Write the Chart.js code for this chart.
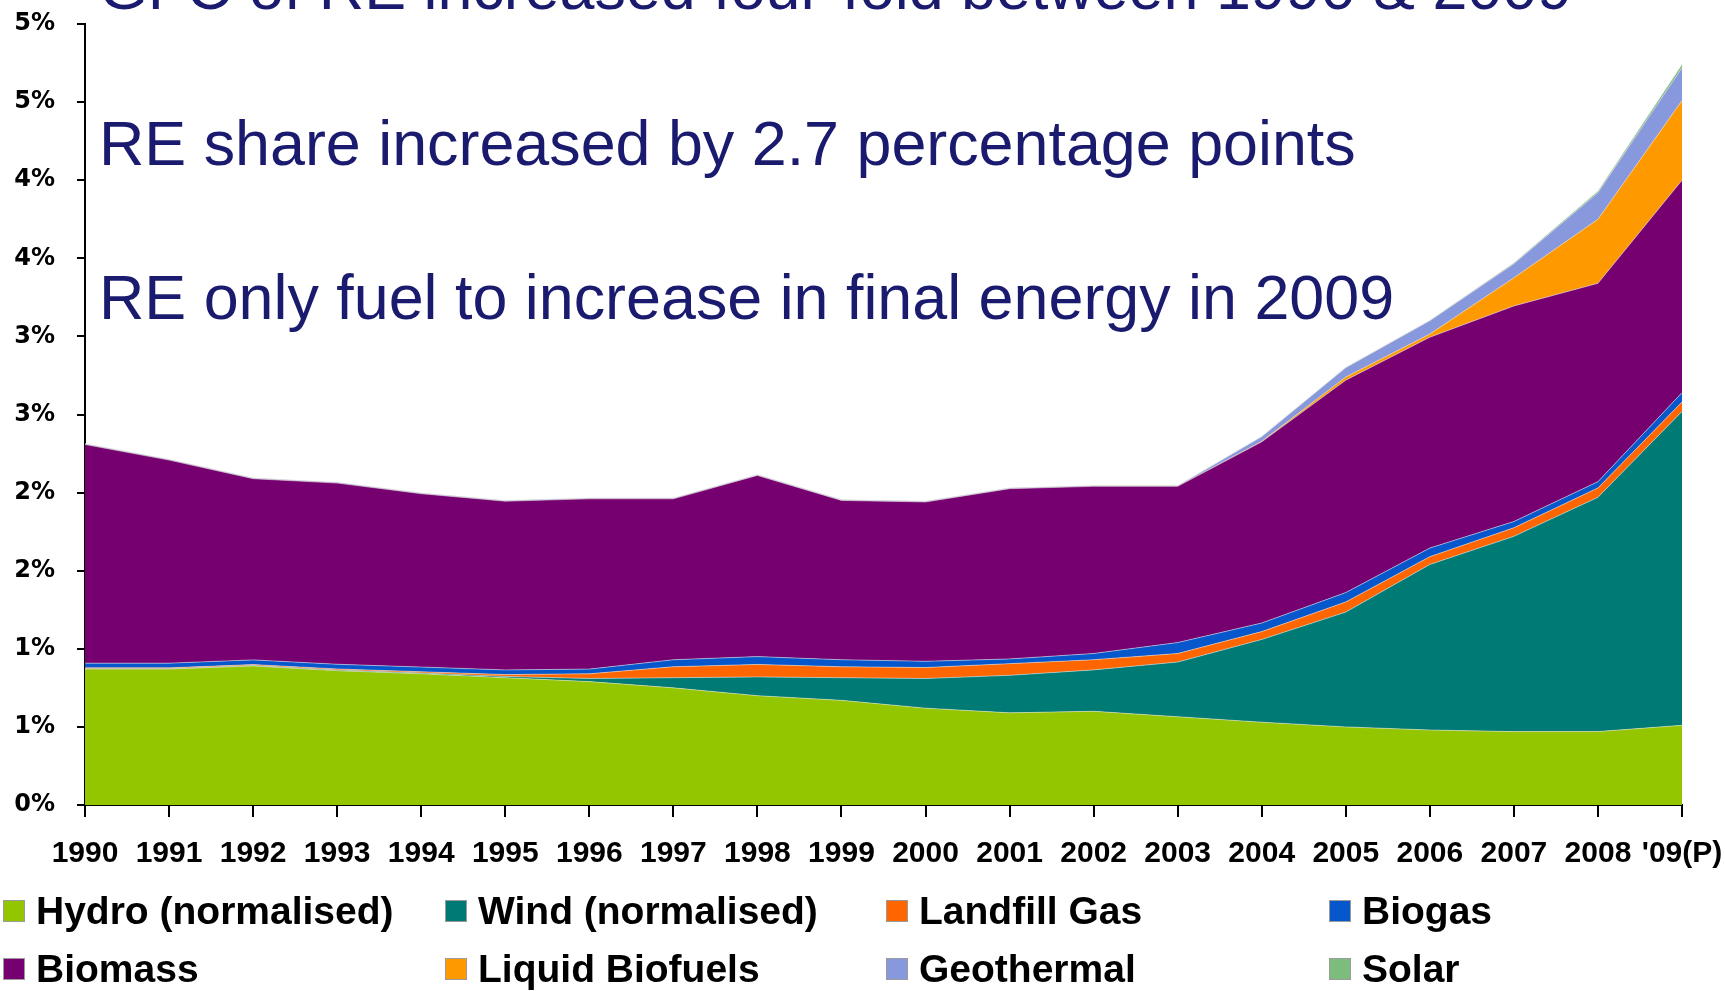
<!DOCTYPE html>
<html>
<head>
<meta charset="utf-8">
<script src="https://cdn.jsdelivr.net/npm/chart.js@4.4.1/dist/chart.umd.min.js"></script>
<style>
  html, body { margin: 0; padding: 0; background: #fff; overflow: hidden; }
  #wrap { position: relative; width: 1725px; height: 991px; }
  #chart { position: absolute; left: 0; top: 0; }
  .note {
    position: absolute; left: 99px; margin: 0;
    font: 62.8px 'Liberation Sans', Arial, sans-serif;
    line-height: 1; color: #1a1a6e; white-space: nowrap;
  }
  .item {
    position: absolute; height: 46px; display: flex; align-items: center;
    font: bold 39px 'Liberation Sans', Arial, sans-serif; line-height: 46px;
    color: #000; white-space: nowrap;
  }
  .sw { width: 20px; height: 20px; border: 1px solid #9a9a9a; margin-right: 11px; flex: none; }
</style>
</head>
<body>
<div id="wrap">
  <canvas id="chart" width="1725" height="991"></canvas>
  <p class="note" style="top:-44px">GFC of RE increased four-fold between 1990 &amp; 2009</p>
  <p class="note" style="top:112px">RE share increased by 2.7 percentage points</p>
  <p class="note" style="top:266px">RE only fuel to increase in final energy in 2009</p>
  <div id="legend"></div>
</div>
<script>
'use strict';

// share of final energy consumption, %
const years = ['1990', '1991', '1992', '1993', '1994', '1995', '1996', '1997', '1998', '1999',
  '2000', '2001', '2002', '2003', '2004', '2005', '2006', '2007', '2008', "'09(P)"];

const hydro = [0.87, 0.87, 0.89, 0.86, 0.84, 0.815, 0.79, 0.75, 0.70, 0.67,
  0.62, 0.59, 0.60, 0.565, 0.53, 0.50, 0.48, 0.47, 0.47, 0.51];
const wind = [0.003, 0.003, 0.003, 0.004, 0.005, 0.008, 0.02, 0.065, 0.12, 0.145,
  0.19, 0.24, 0.265, 0.35, 0.53, 0.735, 1.06, 1.25, 1.50, 2.01];
const landfillGas = [0.005, 0.005, 0.006, 0.007, 0.008, 0.012, 0.03, 0.07, 0.08, 0.07,
  0.07, 0.075, 0.065, 0.055, 0.05, 0.065, 0.05, 0.055, 0.06, 0.06];
const biogas = [0.03, 0.03, 0.03, 0.03, 0.03, 0.03, 0.03, 0.045, 0.05, 0.045,
  0.04, 0.03, 0.04, 0.07, 0.055, 0.06, 0.055, 0.04, 0.04, 0.06];
const biomass = [1.40, 1.30, 1.16, 1.16, 1.11, 1.08, 1.09, 1.03, 1.16, 1.02,
  1.02, 1.09, 1.07, 1.00, 1.16, 1.36, 1.35, 1.38, 1.27, 1.36];
const liquidBiofuels = [0, 0, 0, 0, 0, 0, 0, 0, 0, 0,
  0, 0, 0, 0, 0.003, 0.02, 0.02, 0.18, 0.41, 0.51];
const geothermal = [0.003, 0.003, 0.003, 0.003, 0.003, 0.003, 0.003, 0.003, 0.003, 0.003,
  0.003, 0.003, 0.003, 0.003, 0.03, 0.06, 0.085, 0.09, 0.17, 0.21];
const solar = [0.001, 0.001, 0.001, 0.001, 0.001, 0.001, 0.001, 0.001, 0.001, 0.001,
  0.001, 0.001, 0.001, 0.001, 0.001, 0.001, 0.002, 0.005, 0.01, 0.02];

const series = [
  { label: 'Hydro (normalised)', data: hydro, color: '#94c600' },
  { label: 'Wind (normalised)', data: wind, color: '#007a74' },
  { label: 'Landfill Gas', data: landfillGas, color: '#ff6600' },
  { label: 'Biogas', data: biogas, color: '#0757cc' },
  { label: 'Biomass', data: biomass, color: '#770070' },
  { label: 'Liquid Biofuels', data: liquidBiofuels, color: '#ff9900' },
  { label: 'Geothermal', data: geothermal, color: '#8898dc' },
  { label: 'Solar', data: solar, color: '#7cbd7c' },
];

const yTicks = { min: 0, max: 5, step: 0.5 };

const datasets = series.map((s, i) => ({
  label: s.label,
  data: s.data,
  backgroundColor: s.color,
  borderColor: 'rgba(225,225,225,0.55)',
  borderWidth: 1,
  pointRadius: 0,
  tension: 0,
  fill: i === 0 ? 'origin' : '-1',
}));

new Chart(document.getElementById('chart'), {
  type: 'line',
  data: { labels: years, datasets },
  options: {
    responsive: false,
    animation: false,
    layout: { padding: { top: 24, right: 43, left: 0, bottom: 0 } },
    plugins: { legend: { display: false }, tooltip: { enabled: false } },
    scales: {
      x: {
        offset: false,
        afterFit: (scale) => {
          scale.height = 186;
          scale.paddingLeft = 0;
          scale.paddingRight = 0;
        },
        grid: { drawOnChartArea: false, drawTicks: true, tickLength: 12, color: '#000', lineWidth: 2 },
        border: { display: true, color: '#000', width: 2 },
        ticks: {
          color: '#000',
          padding: 19,
          autoSkip: false,
          maxRotation: 0,
          font: { family: "'Liberation Sans', Arial, sans-serif", size: 30, weight: 'bold' },
        },
      },
      y: {
        stacked: true,
        min: yTicks.min,
        max: yTicks.max,
        afterFit: (scale) => {
          scale.width = 85;
          scale.paddingTop = 0;
          scale.paddingBottom = 0;
        },
        grid: { drawOnChartArea: false, drawTicks: true, tickLength: 8, color: '#000', lineWidth: 2 },
        border: { display: true, color: '#000', width: 2 },
        ticks: {
          stepSize: yTicks.step,
          color: '#000',
          padding: 22,
          font: { family: "'DejaVu Sans', Verdana, sans-serif", size: 24, weight: 'bold' },
          callback: (v) => Math.round(v) + '%',
        },
      },
    },
  },
});

// legend: 4 columns x 2 rows, like the original slide
const legendCols = [3, 445, 886, 1329];
const legendRows = [911, 969];
const legend = document.getElementById('legend');
series.forEach((s, i) => {
  const el = document.createElement('div');
  el.className = 'item';
  el.style.left = legendCols[i % 4] + 'px';
  el.style.top = (legendRows[Math.floor(i / 4)] - 23) + 'px';
  el.innerHTML = '<span class="sw" style="background:' + s.color + '"></span><span>' + s.label + '</span>';
  legend.appendChild(el);
});
</script>
</body>
</html>
